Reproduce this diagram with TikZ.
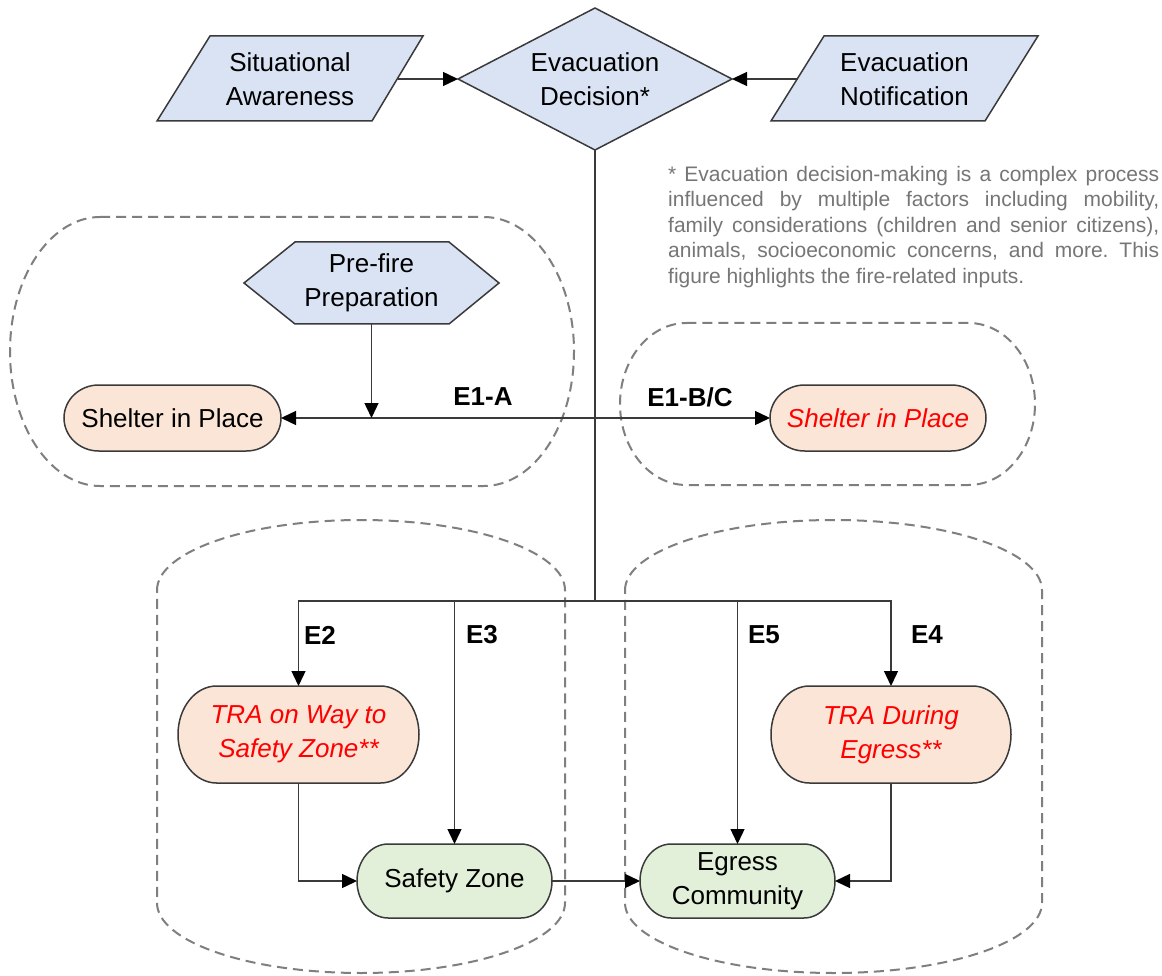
\documentclass[tikz,border=0pt]{standalone}
\usepackage{fontspec}
\setmainfont{Liberation Sans}
\usetikzlibrary{arrows.meta,shapes.geometric}
\definecolor{bluef}{HTML}{DAE3F3}
\definecolor{orangef}{HTML}{FBE5D6}
\definecolor{greenf}{HTML}{E2F0D9}
\definecolor{dashc}{HTML}{7F7F7F}
\definecolor{linec}{HTML}{3A3A3A}
\definecolor{notec}{HTML}{767676}
\definecolor{redt}{HTML}{FF0000}
\newcommand\hterm[5]{%
  \pgfmathsetmacro\tmprx{0.16*(#3-#1)}%
  \pgfmathsetmacro\tmpry{(#4-#2)/2}%
  \path[#5] ({#1+\tmprx},#2) -- ({#3-\tmprx},#2) arc[start angle=-90,end angle=90,x radius=\tmprx,y radius=\tmpry] -- ({#1+\tmprx},#4) arc[start angle=90,end angle=270,x radius=\tmprx,y radius=\tmpry] -- cycle;}
\newcommand\vterm[5]{%
  \pgfmathsetmacro\tmprx{(#3-#1)/2}%
  \pgfmathsetmacro\tmpry{0.155*(#4-#2)}%
  \path[#5] (#1,{#2+\tmpry}) arc[start angle=180,end angle=360,x radius=\tmprx,y radius=\tmpry] -- (#3,{#4-\tmpry}) arc[start angle=0,end angle=180,x radius=\tmprx,y radius=\tmpry] -- cycle;}
\newcommand\termnode[8]{%
  \hterm{#2}{#3}{#4}{#5}{shapeline, fill=#6}
  \node[txt, #7, minimum width={#4-#2}, minimum height={#5-#3}] (#1) at ({(#2+#4)/2},{(#3+#5)/2}) {#8};}
\tikzset{
  txt/.style={inner sep=0pt, outer sep=0pt, align=center, text=black, font=\fontsize{26}{34}\selectfont},
  redtxt/.style={text=redt, font=\fontsize{26}{34}\selectfont\itshape},
  shapeline/.style={draw=linec, line width=1.5pt},
  groupbox/.style={draw=dashc, line width=2pt, dash pattern=on 10pt off 6pt},
  conn/.style={draw=linec, line width=1.4pt},
  arr/.style={conn, -{Triangle[length=15pt,width=14pt,color=black]}},
  lab/.style={inner sep=0pt, font=\fontsize{26}{30}\selectfont\bfseries, text=black},
}
\begin{document}
\begin{tikzpicture}[x=1pt,y=-1pt]
\useasboundingbox (0,0) rectangle (1162,976);
\fill[white] (0,0) rectangle (1162,976);
% group boxes
\hterm{10}{217}{574}{486}{groupbox}
\hterm{620}{323}{1035}{485}{groupbox}
\vterm{157}{520}{565}{973}{groupbox}
\vterm{625}{520}{1042}{973}{groupbox}
% inputs
\path[shapeline, fill=bluef] (157,121) -- (210,36) -- (423,36) -- (372,121) -- cycle;
\node[txt, minimum width=215, minimum height=85] (sa) at (290,79) {Situational\\Awareness};
\path[shapeline, fill=bluef] (771,121) -- (824,36) -- (1038,36) -- (985,121) -- cycle;
\node[txt, minimum width=214, minimum height=85] (en) at (904.5,79) {Evacuation\\Notification};
\node[txt, shape=diamond, shapeline, fill=bluef, minimum width=274, minimum height=142, shape aspect=1.93] (dec) at (595,79) {Evacuation\\Decision*};
% pre-fire
\path[shapeline, fill=bluef] (244,283) -- (295,242) -- (449,242) -- (499,283) -- (449,324) -- (295,324) -- cycle;
\node[txt, minimum width=255, minimum height=82] (pre) at (371.5,283) {Pre-fire\\Preparation};
% outcome nodes
\termnode{shL}{64}{385}{281}{451}{orangef}{}{Shelter in Place}
\termnode{shR}{770}{385}{986}{451}{orangef}{redtxt}{Shelter in Place}
\termnode{tra1}{178}{686}{419}{783}{orangef}{redtxt}{TRA on Way to\\Safety Zone**}
\termnode{tra2}{771}{686}{1011}{783}{orangef}{redtxt}{TRA During\\Egress**}
\termnode{sz}{357}{844}{552}{918}{greenf}{}{Safety Zone}
\termnode{eg}{640}{844}{835}{918}{greenf}{}{Egress\\Community}
% connectors
\coordinate (bus) at (595,601);
\coordinate (e1) at (dec.south |- shL.east);
\draw[arr] (sa.east) -- (dec.west);
\draw[arr] (en.west) -- (dec.east);
\draw[conn] (dec.south) -- (bus);
\draw[arr] (e1) -- (shL.east);
\draw[arr] (e1) -- (shR.west);
\draw[arr] (pre.south) -- (pre.south |- shL.east);
\draw[arr] (bus) -| (tra1.north);
\draw[arr] (bus) -| (sz.north);
\draw[arr] (bus) -| (eg.north);
\draw[arr] (bus) -| (tra2.north);
\draw[arr] (tra1.south) |- (sz.west);
\draw[arr] (sz.east) -- (eg.west);
\draw[arr] (tra2.south) |- (eg.east);
% labels
\node[lab] (l1a) at (483,397) {E1-A};
\node[lab] (l1bc) at (690,397) {E1-B/C};
\node[lab] (l2) at (320,635) {E2};
\node[lab] (l3) at (482,635) {E3};
\node[lab] (l5) at (764,635) {E5};
\node[lab] (l4) at (927,635) {E4};
% footnote
\node[anchor=north west, inner sep=0pt, text width=491pt, align=justify, text=notec, font=\fontsize{21}{25.5}\selectfont] (note) at (668,166) {\frenchspacing\hyphenpenalty=10000 * Evacuation decision-making is a complex process\linebreak influenced by multiple factors including mobility,\linebreak family considerations (children and senior citizens),\linebreak animals, socioeconomic concerns, and more. This\linebreak figure highlights the fire-related inputs.};
\end{tikzpicture}
\end{document}
